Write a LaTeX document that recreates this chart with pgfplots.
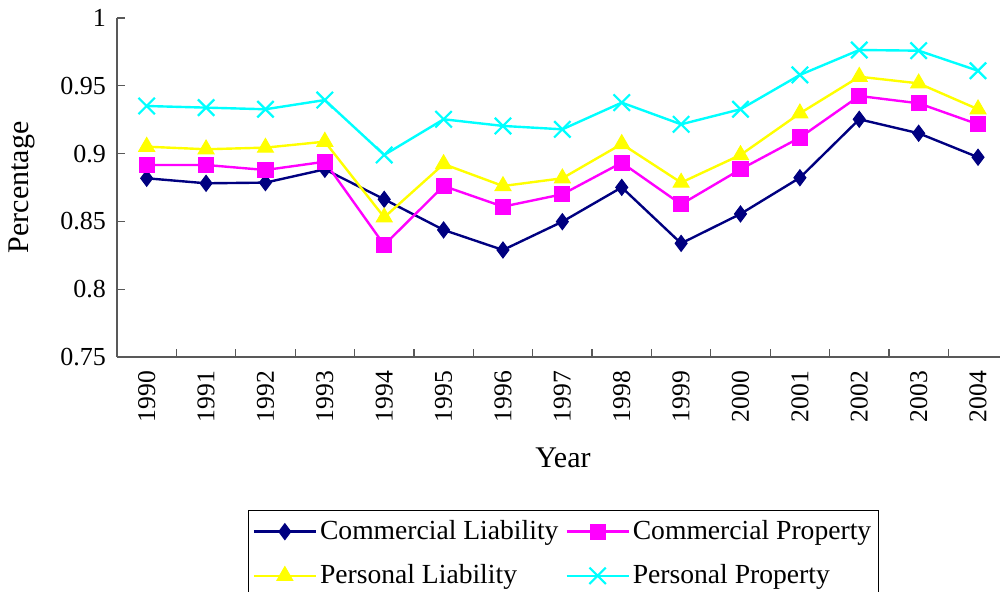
\documentclass[border=0pt]{standalone}
\usepackage{pgfplots}
\pgfplotsset{compat=1.18}
\usepackage{fontspec}
\setmainfont{Liberation Serif}
\definecolor{cl}{RGB}{0,0,128}
\definecolor{cp}{RGB}{255,0,255}
\definecolor{pl}{RGB}{255,255,0}
\definecolor{pp}{RGB}{0,255,255}
\begin{document}
\begin{tikzpicture}
\useasboundingbox (-58.5pt,-117.5pt) rectangle (441.5pt,178.5pt);
\begin{axis}[
  at={(0pt,0pt)}, anchor=south west,
  scale only axis,
  width=441.5pt, height=169.5pt,
  xmin=-0.5, xmax=14.37,
  ymin=0.75, ymax=1,
  axis x line*=bottom, axis y line*=left,
  axis line style={line width=0.6pt, gray!70!black, -},
  xtick={0,...,14},
  xticklabels={1990,1991,1992,1993,1994,1995,1996,1997,1998,1999,2000,2001,2002,2003,2004},
  xticklabel style={rotate=90, anchor=east, font=\fontsize{12.8}{15}\selectfont},
  xticklabel shift=3.5pt,
  yticklabel shift=2pt,
  major x tick style={draw=none},
  minor xtick={0.5,1.5,...,13.5},
  minor tick length=4pt,
  minor x tick style={line width=0.6pt, gray!70!black},
  ytick={0.75,0.8,0.85,0.9,0.95,1},
  yticklabels={0.75,0.8,0.85,0.9,0.95,1},
  yticklabel style={font=\fontsize{13}{15}\selectfont},
  major tick length=4pt,
  major y tick style={line width=0.6pt, gray!70!black},
  tick align=inside,
  xlabel={Year},
  ylabel={Percentage},
  xlabel style={at={(axis description cs:0.505,-0.298)}, anchor=center, font=\fontsize{15}{18}\selectfont},
  ylabel style={at={(axis description cs:-0.1076,0.5)}, anchor=center, font=\fontsize{15}{18}\selectfont},
  legend columns=2,
  legend style={at={(axis description cs:0.1484,-0.4513)}, anchor=north west,
    draw=black, line width=0.6pt, font=\fontsize{13.8}{16}\selectfont,
    /tikz/every even column/.append style={column sep=2pt},
    nodes={inner xsep=1.5pt},
    row sep=7pt, inner xsep=2pt, inner ysep=3pt},
  legend cell align=left,
  legend image code/.code={\draw[mark repeat=2,mark phase=2,#1] plot coordinates {(0pt,0pt) (15.5pt,0pt) (31pt,0pt)};},
  clip=false,
]
\addplot[color=cl, line width=1.2pt, mark=diamond*, mark size=4pt, mark options={fill=cl, draw=cl, line width=0.5pt}] coordinates {
(0,0.8818) (1,0.8781) (2,0.8786) (3,0.8884) (4,0.8663) (5,0.8437) (6,0.8289) (7,0.8498)
(8,0.8751) (9,0.8338) (10,0.8555) (11,0.8822) (12,0.9253) (13,0.9150) (14,0.8973)};
\addlegendentry{Commercial Liability}
\addplot[color=cp, line width=1.2pt, mark=square*, mark size=3.8pt, mark options={fill=cp, draw=cp, line width=0.5pt}] coordinates {
(0,0.8916) (1,0.8916) (2,0.8879) (3,0.8940) (4,0.8326) (5,0.8761) (6,0.8609) (7,0.8700)
(8,0.8933) (9,0.8626) (10,0.8884) (11,0.9118) (12,0.9425) (13,0.9371) (14,0.9216)};
\addlegendentry{Commercial Property}
\addplot[color=pl, line width=1.2pt, mark=triangle*, mark size=4.6pt, mark options={fill=pl, draw=pl, line width=0.5pt}] coordinates {
(0,0.9051) (1,0.9032) (2,0.9044) (3,0.9088) (4,0.8530) (5,0.8923) (6,0.8761) (7,0.8818)
(8,0.9071) (9,0.8786) (10,0.8990) (11,0.9297) (12,0.9567) (13,0.9518) (14,0.9327)};
\addlegendentry{Personal Liability}
\addplot[color=pp, line width=1.2pt, mark=x, mark size=5.8pt, mark options={draw=pp, line width=1.1pt}] coordinates {
(0,0.9351) (1,0.9339) (2,0.9327) (3,0.9395) (4,0.8990) (5,0.9253) (6,0.9204) (7,0.9179)
(8,0.9376) (9,0.9216) (10,0.9327) (11,0.9580) (12,0.9764) (13,0.9759) (14,0.9611)};
\addlegendentry{Personal Property}
\end{axis}
\end{tikzpicture}
\end{document}
